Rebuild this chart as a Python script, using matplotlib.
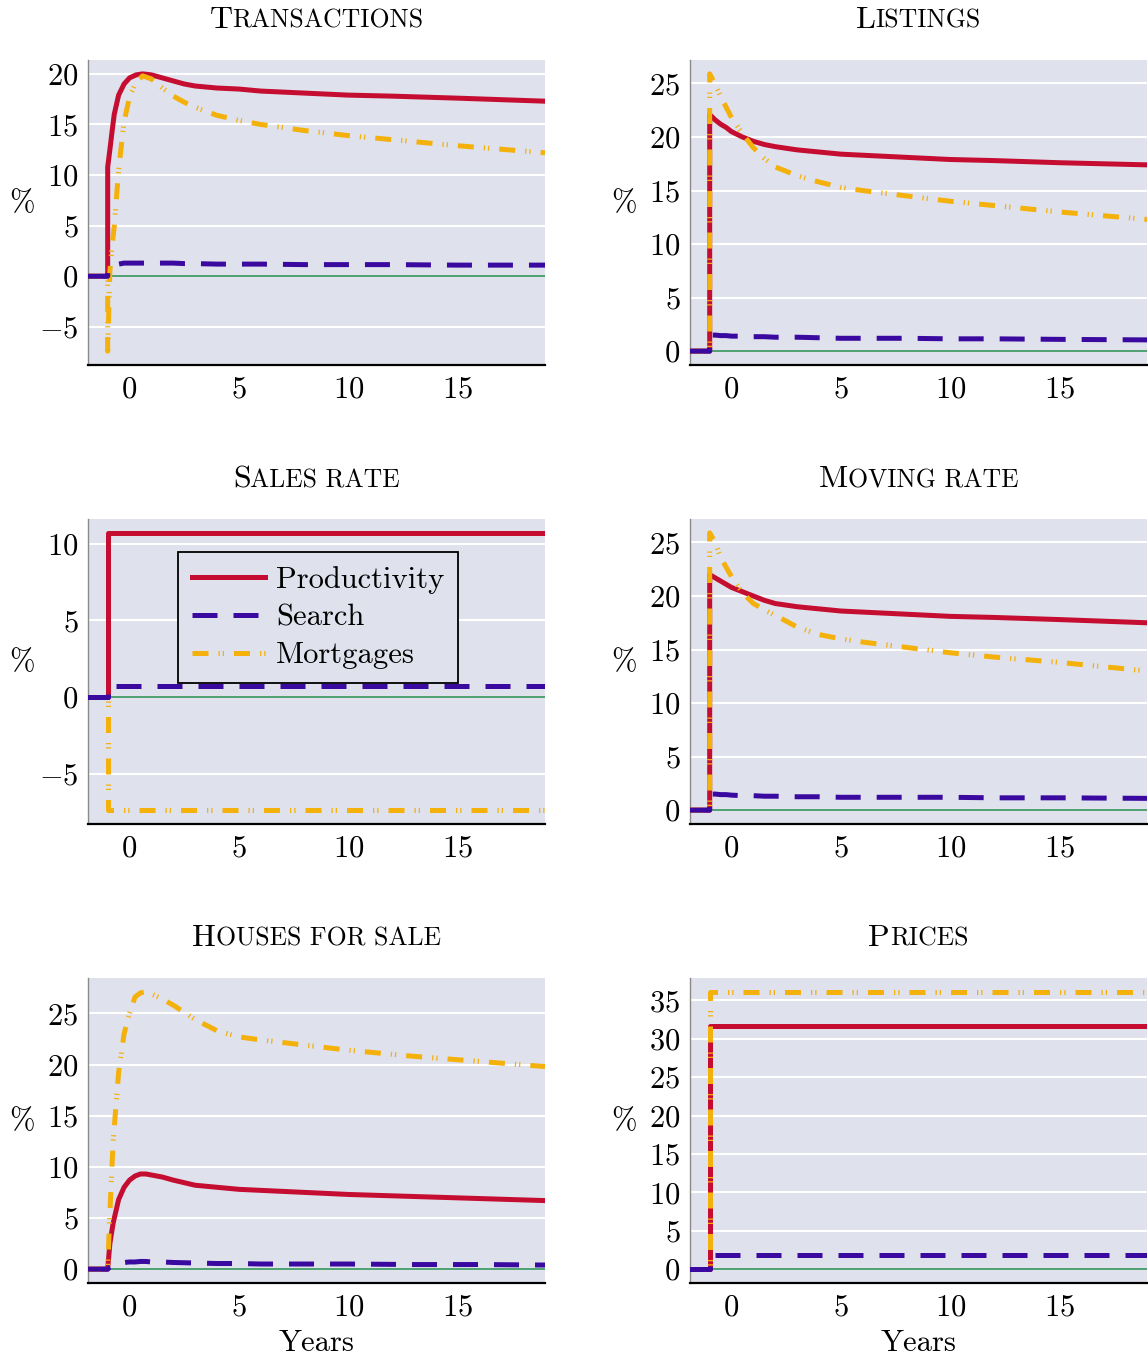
import matplotlib
matplotlib.use("Agg")
import matplotlib.pyplot as plt
from matplotlib.lines import Line2D

plt.rcParams["font.family"] = "cmr10"
plt.rcParams["mathtext.fontset"] = "cm"
plt.rcParams["axes.formatter.use_mathtext"] = True
plt.rcParams["axes.unicode_minus"] = True

# -------------------------
# Datos
# -------------------------
t_tr = [-2, -1, -1, -0.9, -0.8, -0.7, -0.5, -0.25, 0, 0.3, 0.6, 1, 1.5, 2, 2.5, 3, 4, 5, 6, 8, 10, 12, 15, 19]
tr_prod = [0, 0, 10.8, 12.5, 14.3, 16.0, 17.9, 19.0, 19.6, 19.9, 20.0, 19.9, 19.6, 19.3, 19.0, 18.8, 18.6, 18.5, 18.3, 18.1, 17.9, 17.8, 17.6, 17.3]
tr_search = [0, 0, 0.5, 0.8, 1.0, 1.1, 1.2, 1.3, 1.3, 1.3, 1.3, 1.3, 1.3, 1.3, 1.25, 1.25, 1.2, 1.2, 1.2, 1.15, 1.15, 1.15, 1.1, 1.1]
tr_mort = [0, 0, -7.4, 0.5, 3.0, 4.9, 10.5, 15.3, 17.7, 19.2, 19.8, 19.5, 18.6, 17.8, 17.2, 16.7, 15.9, 15.4, 15.0, 14.4, 13.9, 13.5, 12.9, 12.2]

t_li = [-2, -1, -1, -0.75, -0.5, -0.25, 0, 0.5, 1, 1.5, 2, 3, 4, 5, 6, 8, 10, 12, 15, 19]
li_prod = [0, 0, 22.1, 21.6, 21.2, 20.9, 20.5, 20.0, 19.6, 19.3, 19.1, 18.8, 18.6, 18.4, 18.3, 18.1, 17.9, 17.8, 17.6, 17.4]
li_search = [0, 0, 1.5, 1.5, 1.45, 1.45, 1.4, 1.4, 1.35, 1.35, 1.3, 1.3, 1.25, 1.2, 1.2, 1.2, 1.15, 1.15, 1.1, 1.05]
li_mort = [0, 0, 25.9, 24.9, 23.8, 22.8, 21.8, 20.3, 19.0, 18.0, 17.2, 16.4, 15.8, 15.3, 15.0, 14.5, 14.0, 13.6, 13.0, 12.3]

t_sr = [-2, -1, -1, 19]
sr_prod = [0, 0, 10.7, 10.7]
sr_search = [0, 0, 0.72, 0.72]
sr_mort = [0, 0, -7.35, -7.35]

t_mr = [-2, -1, -1, -0.75, -0.5, -0.25, 0, 0.5, 1, 1.5, 2, 3, 4, 5, 6, 8, 10, 12, 15, 19]
mr_prod = [0, 0, 22.0, 21.7, 21.4, 21.1, 20.8, 20.4, 20.0, 19.6, 19.3, 19.0, 18.8, 18.6, 18.5, 18.3, 18.1, 18.0, 17.8, 17.5]
mr_search = [0, 0, 1.5, 1.5, 1.45, 1.45, 1.4, 1.35, 1.35, 1.3, 1.3, 1.25, 1.25, 1.2, 1.2, 1.2, 1.2, 1.15, 1.15, 1.1]
mr_mort = [0, 0, 25.9, 25.0, 23.6, 22.7, 21.8, 20.3, 19.3, 18.7, 18.2, 17.1, 16.4, 16.0, 15.7, 15.2, 14.7, 14.3, 13.8, 13.0]

t_hs = [-2, -1, -0.9, -0.75, -0.5, -0.25, 0, 0.25, 0.5, 0.75, 1, 1.5, 2, 3, 4, 5, 6, 8, 10, 13, 16, 19]
hs_prod = [0, 0, 2.5, 4.5, 6.8, 8.0, 8.7, 9.1, 9.3, 9.3, 9.2, 9.0, 8.7, 8.2, 8.0, 7.8, 7.7, 7.5, 7.3, 7.1, 6.9, 6.7]
hs_search = [0, 0, 0.2, 0.4, 0.55, 0.65, 0.7, 0.7, 0.75, 0.75, 0.7, 0.7, 0.65, 0.6, 0.55, 0.55, 0.5, 0.5, 0.5, 0.45, 0.45, 0.4]
hs_mort = [0, 0, 5.5, 12.5, 19.2, 23.0, 25.0, 26.6, 27.0, 27.1, 26.9, 26.4, 25.8, 24.4, 23.3, 22.7, 22.4, 21.9, 21.4, 20.8, 20.3, 19.8]

t_pr = [-2, -1, -1, 19]
pr_prod = [0, 0, 31.6, 31.6]
pr_search = [0, 0, 1.8, 1.8]
pr_mort = [0, 0, 36.1, 36.1]

paneles = [
    ("T", "RANSACTIONS", t_tr, tr_prod, tr_search, tr_mort, [-5, 0, 5, 10, 15, 20]),
    ("L", "ISTINGS", t_li, li_prod, li_search, li_mort, [0, 5, 10, 15, 20, 25]),
    ("S", "ALES RATE", t_sr, sr_prod, sr_search, sr_mort, [-5, 0, 5, 10]),
    ("M", "OVING RATE", t_mr, mr_prod, mr_search, mr_mort, [0, 5, 10, 15, 20, 25]),
    ("H", "OUSES FOR SALE", t_hs, hs_prod, hs_search, hs_mort, [0, 5, 10, 15, 20, 25]),
    ("P", "RICES", t_pr, pr_prod, pr_search, pr_mort, [0, 5, 10, 15, 20, 25, 30, 35]),
]
xticks = [0, 5, 10, 15]

# colores y estilos
c_prod = "#c40d30"
c_search = "#3a0aa0"
c_mort = "#f4b10c"
c_zero = "#3f9a68"
fondo = "#dfe1ec"
lw = 3.6
dash_search = (0, (5.0, 3.2))
dash_mort = (0, (3.2, 2.0, 0.25, 0.6, 0.25, 2.0))

W, H = 1148, 1360
fig = plt.figure(figsize=(W / 100, H / 100), dpi=100)

col_x = [88, 690]
row_top = [60, 519, 978]
ax_w, ax_h = 457, 305

axes = []
for i, (big, small, t, p, s, m, yt) in enumerate(paneles):
    r, c = divmod(i, 2)
    left = col_x[c] / W
    bottom = 1 - (row_top[r] + ax_h) / H
    ax = fig.add_axes([left, bottom, ax_w / W, ax_h / H])
    ax.set_facecolor(fondo)

    ax.plot([-1, 19], [0, 0], color=c_zero, lw=1.3, zorder=2)
    ax.plot(t, p, color=c_prod, lw=lw, solid_joinstyle="round", zorder=3)
    ax.plot(t, m, color=c_mort, lw=lw, linestyle=dash_mort, dash_capstyle="butt", zorder=4)
    ax.plot(t, s, color=c_search, lw=lw, linestyle=dash_search, dash_capstyle="butt", zorder=5)

    ax.set_xlim(-1.9, 19)
    ax.margins(y=0.05)
    ax.set_xticks(xticks)
    ax.set_yticks(yt)
    ax.tick_params(length=0, labelsize=22)
    ax.tick_params(axis="x", pad=8)
    ax.tick_params(axis="y", pad=7)
    ax.grid(axis="y", color="white", lw=1.5)
    ax.set_axisbelow(True)
    for sp in ["top", "right"]:
        ax.spines[sp].set_visible(False)
    ax.spines["left"].set_color("#8a8a8a")
    ax.spines["left"].set_linewidth(1.0)
    ax.spines["bottom"].set_color("black")
    ax.spines["bottom"].set_linewidth(1.6)

    ax.set_ylabel("%", rotation=0, fontsize=22, va="center", ha="center")
    ax.yaxis.set_label_coords(-0.145, 0.53)
    if r == 2:
        ax.set_xlabel("Years", fontsize=22, labelpad=6)
    axes.append((ax, big, small, r, c))

# titulos en versalitas (letra grande + resto mas chico)
renderer = fig.canvas.get_renderer()
for ax, big, small, r, c in axes:
    y = 1 - (row_top[r] - 32) / H
    t1 = fig.text(0, y, big, fontsize=23, va="baseline", ha="left")
    t2 = fig.text(0, y, small, fontsize=18.5, va="baseline", ha="left")
    w1 = t1.get_window_extent(renderer).width
    w2 = t2.get_window_extent(renderer).width
    cx = col_x[c] + ax_w / 2
    x0 = cx - (w1 + w2) / 2
    t1.set_x(x0 / W)
    t2.set_x((x0 + w1) / W)

# leyenda en el panel de Sales rate
ax_leg = axes[2][0]
handles = [
    Line2D([], [], color=c_prod, lw=lw),
    Line2D([], [], color=c_search, lw=lw, linestyle=dash_search, dash_capstyle="butt"),
    Line2D([], [], color=c_mort, lw=lw, linestyle=dash_mort, dash_capstyle="butt"),
]
leg = ax_leg.legend(handles, ["Productivity", "Search", "Mortgages"],
                    loc="upper left", bbox_to_anchor=(0.197, 0.892),
                    borderaxespad=0, fontsize=22, handlelength=2.4,
                    handletextpad=0.35, labelspacing=0.34, borderpad=0.45,
                    fancybox=False, framealpha=1, facecolor=fondo, edgecolor="black")
leg.get_frame().set_linewidth(1.3)

fig.savefig("out.png", dpi=100)
